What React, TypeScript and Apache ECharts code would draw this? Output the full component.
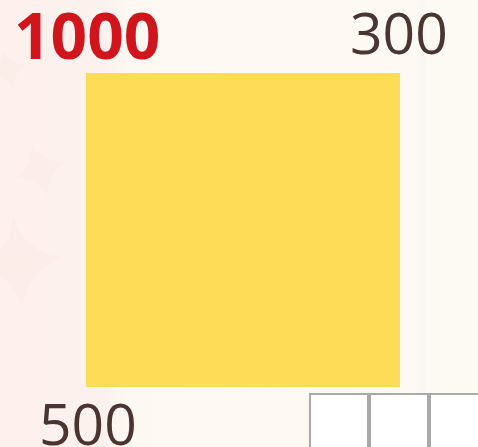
import React, { useEffect, useRef } from "react";
import * as echarts from "echarts";

const categories = ["square"];
const squareValues = [1000];
const mainLabel = "1000";
const topRightLabel = "300";
const bottomLeftLabel = "500";
const boxCount = [1, 2, 3];

echarts.graphic.registerShape(
  "sparkle",
  echarts.graphic.extendPath(
    "M0,-1 Q0.18,-0.18 1,0 Q0.18,0.18 0,1 Q-0.18,0.18 -1,0 Q-0.18,-0.18 0,-1Z",
    {}
  )
);

export default function App() {
  const ref = useRef<HTMLDivElement>(null);
  useEffect(() => {
    document.body.style.margin = "0";
    const chart = echarts.init(ref.current!, null, { renderer: "svg" });
    const font = "'Open Sans', 'Noto Sans', sans-serif";
    const boxes = boxCount.map((_, i) => ({
      type: "rect",
      shape: { x: 310 + i * 60, y: 394, width: 58, height: 60 },
      style: { fill: "#ffffff", stroke: "#a9a9a9", lineWidth: 2 },
      z: 5,
    }));
    chart.setOption({
      animation: false,
      backgroundColor: "#fdf9f3",
      graphic: [
        {
          type: "rect",
          shape: { x: 0, y: 0, width: 478, height: 447 },
          style: {
            fill: new echarts.graphic.LinearGradient(0, 0, 1, 0, [
              { offset: 0, color: "#fdf0ed" },
              { offset: 0.22, color: "#fdf1ee" },
              { offset: 0.27, color: "#fdf8f2" },
              { offset: 1, color: "#fdf9f3" },
            ]),
          },
          z: -10,
        },
        {
          type: "rect",
          shape: { x: 417, y: 0, width: 8, height: 447 },
          style: { fill: "#f8f7f2", opacity: 0.5 },
          z: -9,
        },
        {
          type: "sparkle",
          x: 40,
          y: 170,
          scaleX: 27,
          scaleY: 27,
          rotation: 0.3,
          style: { fill: "#f9e8e1", opacity: 0.35 },
          z: -8,
        },
        {
          type: "sparkle",
          x: 18,
          y: 262,
          scaleX: 45,
          scaleY: 45,
          rotation: 0.1,
          style: { fill: "#f9e7df", opacity: 0.35 },
          z: -8,
        },
        {
          type: "sparkle",
          x: 8,
          y: 70,
          scaleX: 20,
          scaleY: 20,
          rotation: 0.3,
          style: { fill: "#f9e7df", opacity: 0.3 },
          z: -8,
        },
        {
          type: "text",
          x: 14,
          y: 2,
          style: {
            text: mainLabel,
            font: `bold 64px ${font}`,
            fill: "#d0161c",
          },
          z: 10,
        },
        {
          type: "text",
          x: 350,
          y: 3,
          style: {
            text: topRightLabel,
            font: `57px ${font}`,
            fill: "#4a3530",
          },
          z: 10,
        },
        {
          type: "text",
          x: 39,
          y: 394,
          style: {
            text: bottomLeftLabel,
            font: `57px ${font}`,
            fill: "#4a3530",
          },
          z: 10,
        },
        ...boxes,
      ],
      grid: { left: 86, top: 73, width: 314, height: 314 },
      xAxis: { type: "category", data: categories, show: false },
      yAxis: { type: "value", min: 0, max: squareValues[0], show: false },
      series: [
        {
          type: "bar",
          data: squareValues,
          barWidth: "100%",
          itemStyle: { color: "#ffdc58" },
          silent: true,
        },
      ],
    });
    return () => chart.dispose();
  }, []);
  return <div ref={ref} style={{ width: 478, height: 447 }} />;
}
